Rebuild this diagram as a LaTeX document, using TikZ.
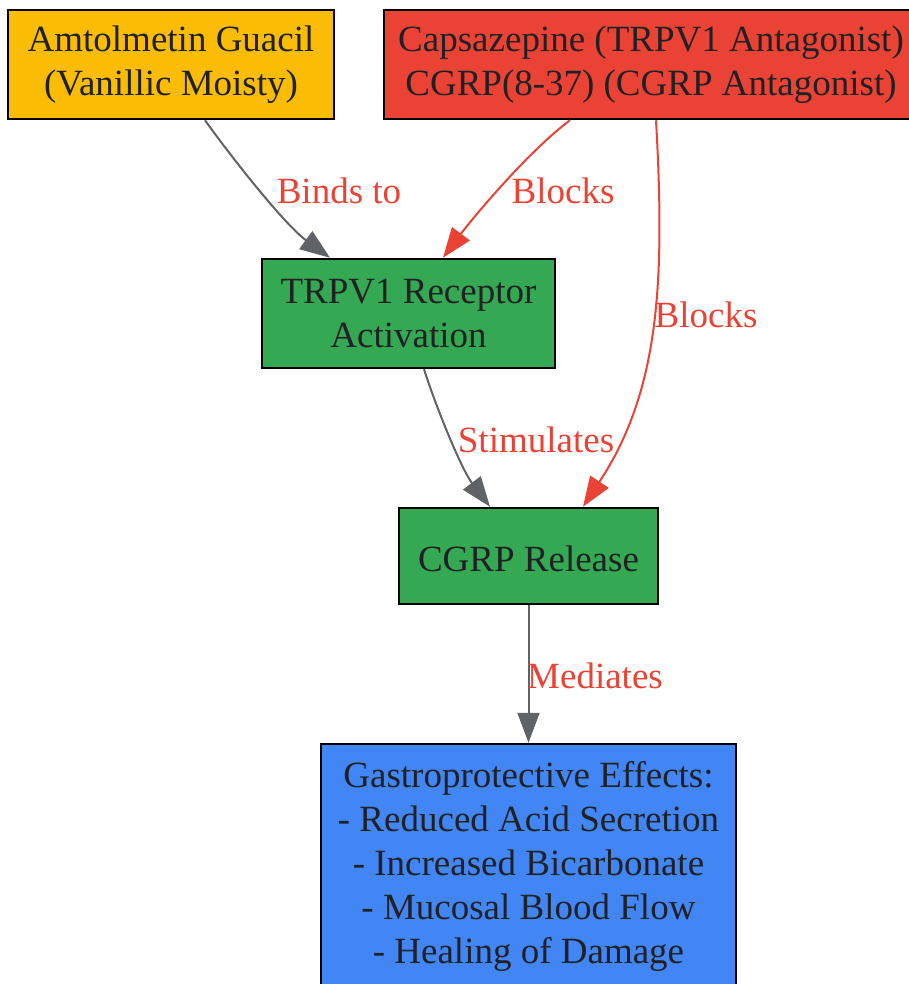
\documentclass[tikz,border=0pt]{standalone}
\usepackage{fontspec}
\setmainfont{Liberation Serif}
\usepackage{tikz}
\usetikzlibrary{positioning}
\usetikzlibrary{arrows.meta}
\definecolor{gyellow}{HTML}{FBBC05}
\definecolor{gred}{HTML}{EA4335}
\definecolor{ggreen}{HTML}{34A853}
\definecolor{gblue}{HTML}{4285F4}
\definecolor{ggrey}{HTML}{5F6368}
\definecolor{gtext}{HTML}{202124}
\tikzset{
	box/.style={draw=black, line width=1.25pt, inner sep=0pt, align=center, text=gtext, font=\fontsize{18.5}{22}\selectfont, minimum height=54.5pt, execute at begin node={\rule{0pt}{16pt}}},
	lbl/.style={text=gred, inner sep=0pt, font=\fontsize{18.5}{22}\selectfont},
	link/.style={draw=ggrey, line width=1pt, -{Triangle[length=15pt,width=11pt]}},
	blocklink/.style={link, draw=gred, -{Triangle[length=15pt,width=11pt,fill=gred]}}
}
\begin{document}
\begin{tikzpicture}[x=0.5pt, y=-0.5pt]
		\useasboundingbox (0,0) rectangle (909,984);
		\node [box, fill=gyellow, minimum width=163pt] at (171,64.5) (amtol) {Amtolmetin Guacil\\(Vanillic Moisty)};
		\node [box, fill=gred, minimum width=267pt] at (651,64.5) (antag) {Capsazepine (TRPV1 Antagonist)\\CGRP(8-37) (CGRP Antagonist)};
		\node [box, fill=ggreen, minimum width=146.5pt] at (408.5,313.5) (trpv) {TRPV1 Receptor\\Activation};
		\node [box, fill=ggreen, minimum width=129.5pt, minimum height=48pt] at (528.5,556) (cgrp) {CGRP Release};
		\node [box, fill=gblue, minimum width=207.5pt, minimum height=122pt] at (528.5,866) (gastro) {Gastroprotective Effects:\\- Reduced Acid Secretion\\- Increased Bicarbonate\\- Mucosal Blood Flow\\- Healing of Damage};
		\draw [link] ([xshift=17pt]amtol.south) .. controls (232,158) and (285,225) .. ([xshift=-39.25pt]trpv.north);
		\draw [blocklink] ([xshift=-40.5pt]antag.south) .. controls (530,150) and (475,215) .. ([xshift=17.25pt]trpv.north);
		\draw [blocklink] ([xshift=2.5pt]antag.south) .. controls (665,280) and (660,390) .. ([xshift=27.25pt]cgrp.north);
		\draw [link] ([xshift=7.75pt]trpv.south) .. controls (437,410) and (462,470) .. ([xshift=-19.25pt]cgrp.north);
		\draw [link] (cgrp.south) -- (gastro.north);
		\node [lbl] at (339,191) (bindslbl) {Binds to};
		\node [lbl] at (563,191) (blockalbl) {Blocks};
		\node [lbl] at (706,315) (blockblbl) {Blocks};
		\node [lbl] at (536,440) (stimlbl) {Stimulates};
		\node [lbl] at (595,676) (medlbl) {Mediates};
		\end{tikzpicture}
\end{document}
